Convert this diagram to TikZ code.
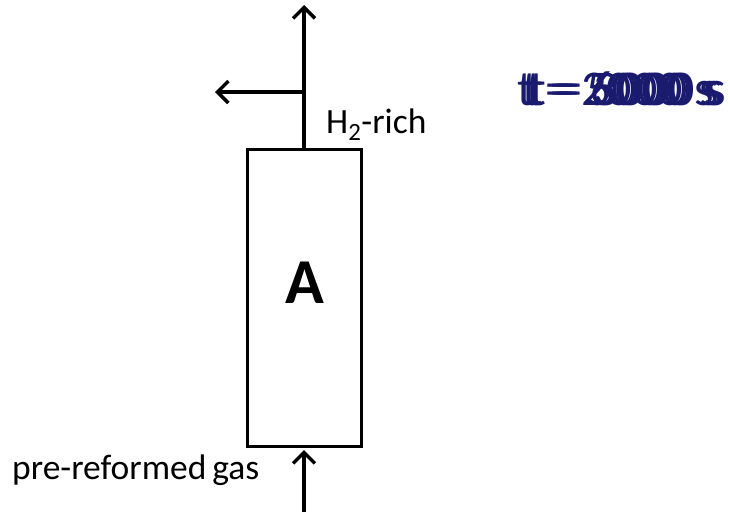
\documentclass[tikz,border=0pt]{standalone}
\usepackage{fontspec}
\setmainfont{Carlito}
\usetikzlibrary{arrows.meta}
\definecolor{tblue}{RGB}{26,26,110}
\begin{document}
\begin{tikzpicture}[x=1pt,y=-1pt,
  flow/.style={line width=3.5pt,-{Straight Barb[length=11pt,width=22pt,line width=3.5pt]}},
  lbl/.style={inner sep=0pt,font=\fontsize{35.5}{38}\selectfont},
  tlbl/.style={inner sep=0pt,anchor=base west,text=tblue,font=\fontsize{50}{54}\selectfont}]
\useasboundingbox (0,0) rectangle (730,512);
\node[draw,line width=3pt,minimum width=114pt,minimum height=297pt,inner sep=0pt] (A) at (304,298) {};
\node[inner sep=0pt,font=\fontsize{64}{68}\selectfont\bfseries] (Alabel) at (305,283) {A};
\coordinate (top) at (304,5);
\coordinate (split) at (304,92);
\coordinate (left) at (215,92);
\coordinate (bot) at (304,512);
\coordinate (botend) at (304,450);
\draw[flow] (A.north) -- (top);
\draw[flow] (split) -- (left);
\draw[flow] (bot) -- (botend);
\node[lbl,anchor=base west] (h2) at (326,133) {H\textsubscript{2}-rich};
\node[lbl,anchor=base west] (pre) at (12,479) {pre-reformed\,gas};
\node[tlbl] (t1) at (517,105) {t = 2000 s};
\node[tlbl] (t2) at (522,105) {t = 5000 s};
\node[tlbl] (t3) at (526,105) {t = 6000 s};
\node[tlbl] (t4) at (529,105) {t = 3000 s};
\end{tikzpicture}
\end{document}
